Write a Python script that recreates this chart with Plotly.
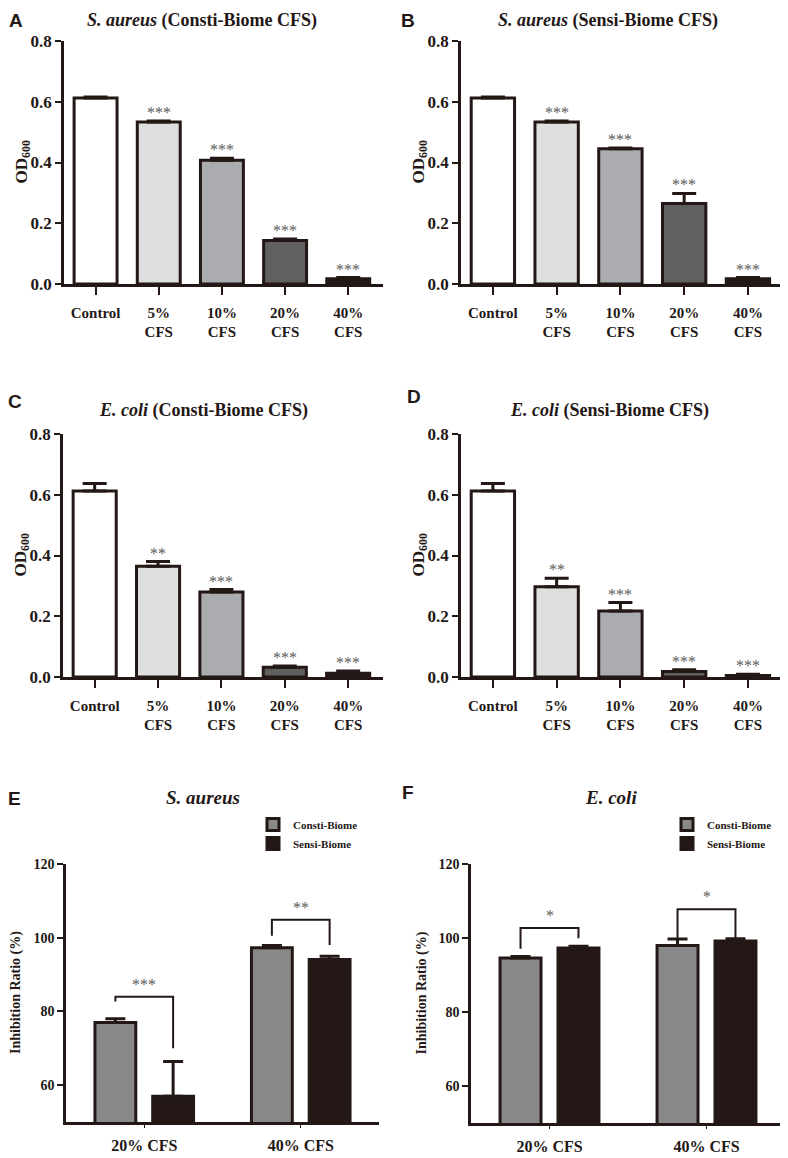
import plotly.graph_objects as go

W, H = 788, 1158
# the page body adds an 8px margin around the figure; shift layout to compensate
OX, OY = 8, 8

cats = ["Control", "5%<br>CFS", "10%<br>CFS", "20%<br>CFS", "40%<br>CFS"]
bar_colors = ["#FFFFFF", "#DEE0DF", "#ABACAF", "#606060", "#231815"]

a_mean = [0.612, 0.533, 0.407, 0.143, 0.017]
a_err = [0.004, 0.004, 0.007, 0.005, 0.004]
a_sig = ["", "***", "***", "***", "***"]

b_mean = [0.612, 0.533, 0.445, 0.265, 0.017]
b_err = [0.004, 0.004, 0.003, 0.033, 0.004]
b_sig = ["", "***", "***", "***", "***"]

c_mean = [0.612, 0.365, 0.280, 0.032, 0.012]
c_err = [0.025, 0.015, 0.008, 0.004, 0.008]
c_sig = ["", "**", "***", "***", "***"]

d_mean = [0.612, 0.297, 0.217, 0.018, 0.005]
d_err = [0.025, 0.028, 0.028, 0.006, 0.004]
d_sig = ["", "**", "***", "***", "***"]

groups = ["20% CFS", "40% CFS"]
e_consti = [77.0, 97.3]
e_consti_err = [1.0, 0.6]
e_sensi = [57.0, 94.1]
e_sensi_err = [9.4, 0.9]
e_brackets = [(82.7, 84.0, 70.0, "***"), (100.5, 104.9, 98.0, "**")]

f_consti = [94.6, 98.0]
f_consti_err = [0.4, 1.7]
f_sensi = [97.3, 99.2]
f_sensi_err = [0.5, 0.6]
f_brackets = [(97.1, 102.7, 99.9, "*"), (99.6, 107.8, 100.0, "*")]

DARK = "#231815"
STAR = "#5A5A5A"
SERIF = "Liberation Serif"
SANS = "Liberation Sans"

fig = go.Figure()


def dom_x(x0, x1):
    return [(x0 - OX) / W, (x1 - OX) / W]


def dom_y(y0, y1):
    return [1 - (y1 - OY) / H, 1 - (y0 - OY) / H]


def bold(size, family=SERIF):
    return dict(family=family, size=size, color=DARK, weight="bold")


def axis_style(**kw):
    d = dict(showline=True, linecolor=DARK, linewidth=2.5, showgrid=False,
             zeroline=False, ticks="outside", tickcolor=DARK, tickwidth=2,
             tickfont=bold(15), fixedrange=True)
    d.update(kw)
    return d


def paper_text(x, y, text, font, **kw):
    d = dict(x=(x - OX) / W, y=1 - (y - OY) / H, xref="paper", yref="paper", text=text,
             showarrow=False, xanchor="center", yanchor="middle", font=font)
    d.update(kw)
    return d


annotations = []
shapes = []

# top four panels
od_panels = [
    (a_mean, a_err, a_sig, "", (64, 383), (41, 284),
     "<i>S. aureus</i> (Consti-Biome CFS)", (202, 20), "A", (16, 20)),
    (b_mean, b_err, b_sig, "2", (461, 783), (41, 284),
     "<i>S. aureus</i> (Sensi-Biome CFS)", (608, 20), "B", (408, 20)),
    (c_mean, c_err, c_sig, "3", (63, 383), (434, 677),
     "<i>E. coli</i> (Consti-Biome CFS)", (203, 410), "C", (15, 401)),
    (d_mean, d_err, d_sig, "4", (461, 783), (434, 677),
     "<i>E. coli</i> (Sensi-Biome CFS)", (609, 410), "D", (414, 396)),
]

for mean, err, sig, s, xp, yp, title, tpos, letter, lpos in od_panels:
    xa, ya = "x" + s, "y" + s
    fig.add_trace(go.Bar(
        x=cats, y=mean, width=0.68, xaxis=xa, yaxis=ya, showlegend=False,
        marker=dict(color=bar_colors, line=dict(color=DARK, width=3)),
        error_y=dict(type="data", array=err, arrayminus=[0] * len(err),
                     symmetric=False, color=DARK, thickness=3, width=12),
    ))
    fig.update_layout(**{
        "xaxis" + s: axis_style(domain=dom_x(*xp), anchor=ya, type="category",
                                range=[-0.5, 4.55], ticklen=8, ticklabelstandoff=5,
                                tickfont=bold(15)),
        "yaxis" + s: axis_style(domain=dom_y(*yp), anchor=xa, range=[0, 0.8],
                                tickvals=[0, 0.2, 0.4, 0.6, 0.8], tickformat=".1f",
                                ticklen=6, tickfont=bold(17)),
    })
    for c, m, e, t in zip(cats, mean, err, sig):
        if t:
            annotations.append(dict(x=c, y=m + e, xref=xa, yref=ya, text=t,
                                    showarrow=False, yanchor="bottom", yshift=-2,
                                    font=dict(family=SERIF, size=16, color=STAR)))
    annotations.append(paper_text(*tpos, "<b>" + title + "</b>", bold(18)))
    annotations.append(paper_text(*lpos, "<b>" + letter + "</b>", bold(19, SANS)))
    annotations.append(paper_text(xp[0] - 42, (yp[0] + yp[1]) / 2,
                                  "<b>OD<sub>600</sub></b>", bold(17), textangle=-90))

# bottom two panels
ratio_panels = [
    (e_consti, e_consti_err, e_sensi, e_sensi_err, e_brackets, "5", (66, 379), (864, 1122),
     "<i>S. aureus</i>", (203, 797), "E", (14, 798), "legend", (253, 810)),
    (f_consti, f_consti_err, f_sensi, f_sensi_err, f_brackets, "6", (471, 785), (864, 1123),
     "<i>E. coli</i>", (611, 797), "F", (408, 792), "legend2", (667, 810)),
]

bw, gap = 0.261, 0.108
for cm, ce, sm, se, brackets, s, xp, yp, title, tpos, letter, lpos, lg, lgpos in ratio_panels:
    xa, ya = "x" + s, "y" + s
    xs = list(range(len(groups)))
    fig.add_trace(go.Bar(
        x=xs, y=cm, width=bw, offset=-(bw + gap / 2), xaxis=xa, yaxis=ya,
        name="Consti-Biome", legend=lg,
        marker=dict(color="#898989", line=dict(color=DARK, width=3)),
        error_y=dict(type="data", array=ce, arrayminus=[0] * len(ce),
                     symmetric=False, color=DARK, thickness=3, width=10),
    ))
    fig.add_trace(go.Bar(
        x=xs, y=sm, width=bw, offset=gap / 2, xaxis=xa, yaxis=ya,
        name="Sensi-Biome", legend=lg,
        marker=dict(color=DARK, line=dict(color=DARK, width=3)),
        error_y=dict(type="data", array=se, arrayminus=[0] * len(se),
                     symmetric=False, color=DARK, thickness=3, width=10),
    ))
    fig.update_layout(**{
        "xaxis" + s: axis_style(domain=dom_x(*xp), anchor=ya, range=[-0.5, 1.5],
                                tickvals=xs, ticktext=groups, ticklen=3, tickwidth=1,
                                ticklabelstandoff=4, tickfont=bold(16)),
        "yaxis" + s: axis_style(domain=dom_y(*yp), anchor=xa, range=[50, 120],
                                tickvals=[60, 80, 100, 120], ticklen=6,
                                tickfont=bold(14)),
        lg: dict(x=(lgpos[0] - OX) / W, y=1 - (lgpos[1] - OY) / H, xanchor="left",
                 yanchor="top", bgcolor="rgba(0,0,0,0)", tracegroupgap=0, font=bold(11)),
    })
    cl, cr = -(bw + gap) / 2, (bw + gap) / 2
    for i, (yl, yt, yr, t) in enumerate(brackets):
        shapes.append(dict(type="path", xref=xa, yref=ya,
                           path=f"M {i + cl},{yl} L {i + cl},{yt} L {i + cr},{yt} L {i + cr},{yr}",
                           line=dict(color=DARK, width=2)))
        annotations.append(dict(x=i, y=yt, xref=xa, yref=ya, text=t, showarrow=False,
                                yanchor="bottom", yshift=2,
                                font=dict(family=SERIF, size=16, color=STAR)))
    annotations.append(paper_text(*tpos, "<b>" + title + "</b>", bold(19)))
    annotations.append(paper_text(*lpos, "<b>" + letter + "</b>", bold(19, SANS)))
    annotations.append(paper_text(xp[0] - 50, (yp[0] + yp[1]) / 2,
                                  "<b>Inhibition Ratio (%)</b>", bold(14), textangle=-90))

fig.update_layout(
    width=W, height=H,
    margin=dict(l=0, r=0, t=0, b=0, autoexpand=False),
    plot_bgcolor="white", paper_bgcolor="white",
    barmode="overlay",
    annotations=annotations,
    shapes=shapes,
)

fig.write_html("out.html")
